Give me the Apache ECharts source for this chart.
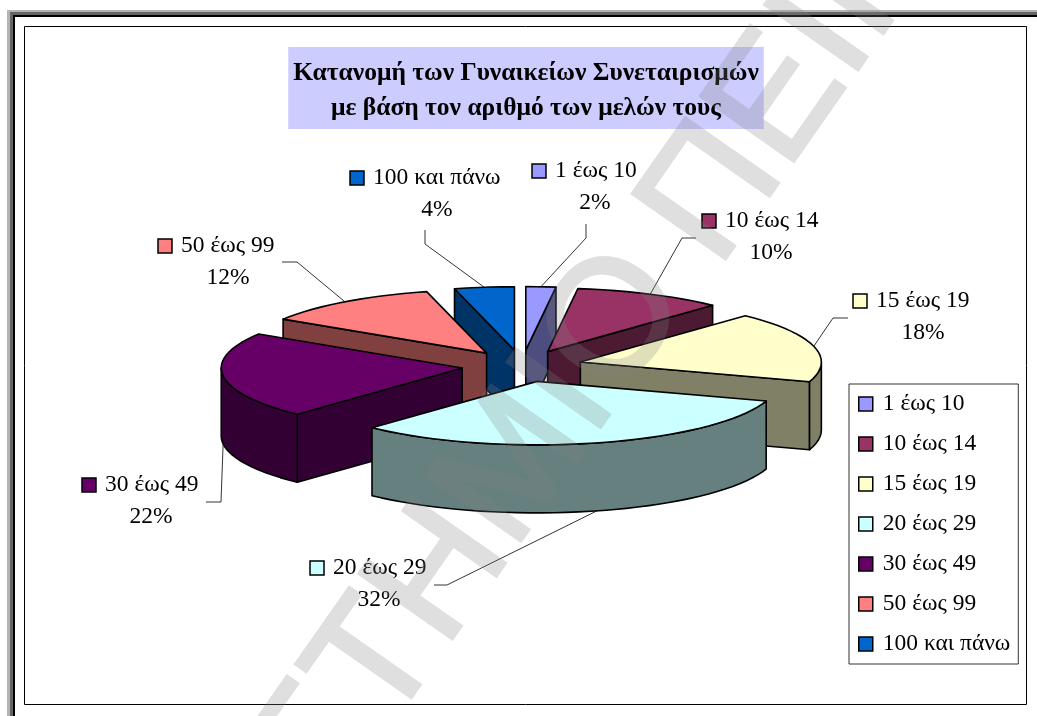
<!DOCTYPE html>
<html>
<head>
<meta charset="utf-8">
<style>
  html, body { margin: 0; padding: 0; background: #fff; }
  #chart { width: 1037px; height: 716px; }
</style>
</head>
<body>
<div id="chart"></div>
<script src="https://cdn.jsdelivr.net/npm/echarts@6/dist/echarts.min.js"></script>
<script>
// data
var categories = ['1 έως 10', '10 έως 14', '15 έως 19', '20 έως 29', '30 έως 49', '50 έως 99', '100 και πάνω']
var shares = [2, 10, 18, 32, 22, 12, 4]
var titleLines = ['Κατανομή των Γυναικείων Συνεταιρισμών', 'με βάση τον αριθμό των μελών τους']
var topColors = ['#9999FF', '#993366', '#FFFFCC', '#CCFFFF', '#660066', '#FF8080', '#0066CC']
var sideColors = ['#4D4D80', '#4D1A33', '#808066', '#668080', '#330033', '#804040', '#003366']

// pie geometry
var FONT = '"Liberation Serif", "Times New Roman", serif'
var LABEL_SIZE = 23.5
var CX = 522
var CY = 366
var RX = 241
var RY = 63.5
var DEPTH = 68
var EXPLODE = 0.25

// label layout: key square left, key top, percent centre, elbow and end of the leader
var labelLayout = [
  { kx: 532, ky: 164, pc: 595, elbow: [586, 238], end: [586, 224] },
  { kx: 702, ky: 214, pc: 771, elbow: [682, 238], end: [696, 238] },
  { kx: 853, ky: 294, pc: 923, elbow: [833, 318], end: [848, 318] },
  { kx: 310, ky: 561, pc: 379, elbow: [447, 585], end: [434, 585] },
  { kx: 82, ky: 478, pc: 151, elbow: [221, 502], end: [206, 502] },
  { kx: 158, ky: 239, pc: 228, elbow: [297, 262], end: [282, 262] },
  { kx: 350, ky: 171, pc: 437, elbow: [425, 244], end: [425, 230] }
]

var total = shares.reduce(function(a, b) { return a + b }, 0)
var slices = []
var acc = 0
shares.forEach(function(v) {
  var a0 = acc / total * Math.PI * 2
  acc += v
  var a1 = acc / total * Math.PI * 2
  var mid = (a0 + a1) / 2
  slices.push({
    a0: a0,
    a1: a1,
    mid: mid,
    ax: CX + Math.sin(mid) * RX * EXPLODE,
    ay: CY - Math.cos(mid) * RY * EXPLODE
  })
})

function rimPoint(s, a, drop) {
  return [s.ax + Math.sin(a) * RX, s.ay - Math.cos(a) * RY + (drop || 0)]
}

function arcPoints(s, from, to, drop) {
  var pts = []
  var n = Math.max(2, Math.ceil((to - from) / (Math.PI / 60)))
  for (var i = 0; i <= n; i++) {
    pts.push(rimPoint(s, from + (to - from) * i / n, drop))
  }
  return pts
}

function face(points, fill) {
  return {
    type: 'polygon',
    shape: { points: points },
    style: { fill: fill, stroke: '#000', lineWidth: 1.6, lineJoin: 'round' }
  }
}

function renderSlice(idx) {
  return function() {
    var s = slices[idx]
    var side = sideColors[idx]
    var apex = [s.ax, s.ay]
    var apexLow = [s.ax, s.ay + DEPTH]
    var kids = []

    // leader line and label
    var lay = labelLayout[idx]
    var front = s.mid > Math.PI / 2 && s.mid < Math.PI * 3 / 2
    kids.push({
      type: 'polyline',
      shape: { points: [rimPoint(s, s.mid, front ? DEPTH : 0), lay.elbow, lay.end] },
      style: { fill: null, stroke: '#000', lineWidth: 0.8 }
    })
    kids.push({
      type: 'rect',
      shape: { x: lay.kx, y: lay.ky, width: 14, height: 14 },
      style: { fill: topColors[idx], stroke: '#000', lineWidth: 1.5 }
    })
    kids.push({
      type: 'text',
      style: { text: categories[idx], x: lay.kx + 23, y: lay.ky + 7, font: LABEL_SIZE + 'px ' + FONT, fill: '#000', textAlign: 'left', textVerticalAlign: 'middle' }
    })
    kids.push({
      type: 'text',
      style: { text: shares[idx] + '%', x: lay.pc, y: lay.ky + 39, font: LABEL_SIZE + 'px ' + FONT, fill: '#000', textAlign: 'center', textVerticalAlign: 'middle' }
    })

    // walls that face the viewer, then the rim, then the top
    if (Math.sin(s.a0) < -1e-6) {
      var p0 = rimPoint(s, s.a0)
      kids.push(face([apex, p0, [p0[0], p0[1] + DEPTH], apexLow], side))
    }
    if (Math.sin(s.a1) > 1e-6) {
      var p1 = rimPoint(s, s.a1)
      kids.push(face([apex, p1, [p1[0], p1[1] + DEPTH], apexLow], side))
    }
    var from = Math.max(s.a0, Math.PI / 2)
    var to = Math.min(s.a1, Math.PI * 3 / 2)
    if (to > from) {
      kids.push(face(arcPoints(s, from, to, 0).concat(arcPoints(s, from, to, DEPTH).reverse()), side))
    }
    kids.push(face([apex].concat(arcPoints(s, s.a0, s.a1, 0)), topColors[idx]))

    return { type: 'group', children: kids }
  }
}

// back slices first
var byDepth = slices.map(function(s, i) { return i }).sort(function(a, b) { return slices[a].ay - slices[b].ay })

var series = categories.map(function(name, i) {
  return {
    name: name,
    type: 'custom',
    coordinateSystem: 'none',
    data: [shares[i]],
    z: 3 + byDepth.indexOf(i),
    itemStyle: { color: topColors[i] },
    renderItem: renderSlice(i)
  }
})

// watermark sits on its own canvas layer so fill and stroke fade as one
var watermark = {
  fill: '#808080',
  stroke: '#808080',
  lineWidth: 3.5,
  font: '165px "Liberation Sans", Arial, sans-serif',
  textVerticalAlign: 'bottom'
}
var WM_ROT = 55 * Math.PI / 180

var chart = echarts.init(document.getElementById('chart'))
chart.setOption({
  animation: false,
  backgroundColor: '#fff',
  title: {
    text: titleLines.join('\n'),
    left: 521,
    top: 47,
    padding: [9, 5, 3, 5],
    backgroundColor: '#CCCCFF',
    textAlign: 'center',
    textStyle: {
      fontFamily: FONT,
      fontSize: 25.5,
      fontWeight: 'bold',
      color: '#000',
      lineHeight: 35
    }
  },
  legend: {
    orient: 'vertical',
    left: 849,
    top: 384,
    padding: [8, 8, 8, 9],
    itemWidth: 14,
    itemHeight: 14,
    itemGap: 16,
    icon: 'rect',
    selectedMode: false,
    backgroundColor: '#fff',
    borderColor: '#333',
    borderWidth: 1,
    itemStyle: { borderColor: '#000', borderWidth: 1.5 },
    data: categories,
    textStyle: { fontFamily: FONT, fontSize: LABEL_SIZE, color: '#000', padding: [0, 0, 0, 5] }
  },
  graphic: {
    elements: [
      // page frame
      { type: 'rect', silent: true, z: 0, shape: { x: 7, y: 10, width: 1030, height: 706 }, style: { fill: '#b4b4b4' } },
      { type: 'rect', silent: true, z: 0, shape: { x: 10, y: 12, width: 1027, height: 704 }, style: { fill: '#666' } },
      { type: 'rect', silent: true, z: 0, shape: { x: 13, y: 15, width: 1024, height: 701 }, style: { fill: '#000' } },
      { type: 'rect', silent: true, z: 0, shape: { x: 15, y: 17, width: 1022, height: 699 }, style: { fill: '#fff' } },
      { type: 'rect', silent: true, z: 0, shape: { x: 24.5, y: 26.5, width: 1002, height: 678 }, style: { fill: '#fff', stroke: '#000', lineWidth: 1 } },
      // diagonal watermark over everything
      {
        type: 'text', silent: true, zlevel: 1, x: 748, y: 291, rotation: WM_ROT, originX: 0, originY: 0,
        style: Object.assign({ text: 'ΠΕΙΡΑΙΩΣ', textAlign: 'left' }, watermark)
      },
      {
        type: 'text', silent: true, zlevel: 1, x: 722, y: 318, rotation: WM_ROT, originX: 0, originY: 0,
        style: Object.assign({ text: 'ΠΑΝΕΠΙΣΤΗΜΙΟ', textAlign: 'right' }, watermark)
      }
    ]
  },
  series: series
})

var layers = chart.getDom().querySelectorAll('canvas')
layers[layers.length - 1].style.opacity = 0.25
</script>
</body>
</html>
